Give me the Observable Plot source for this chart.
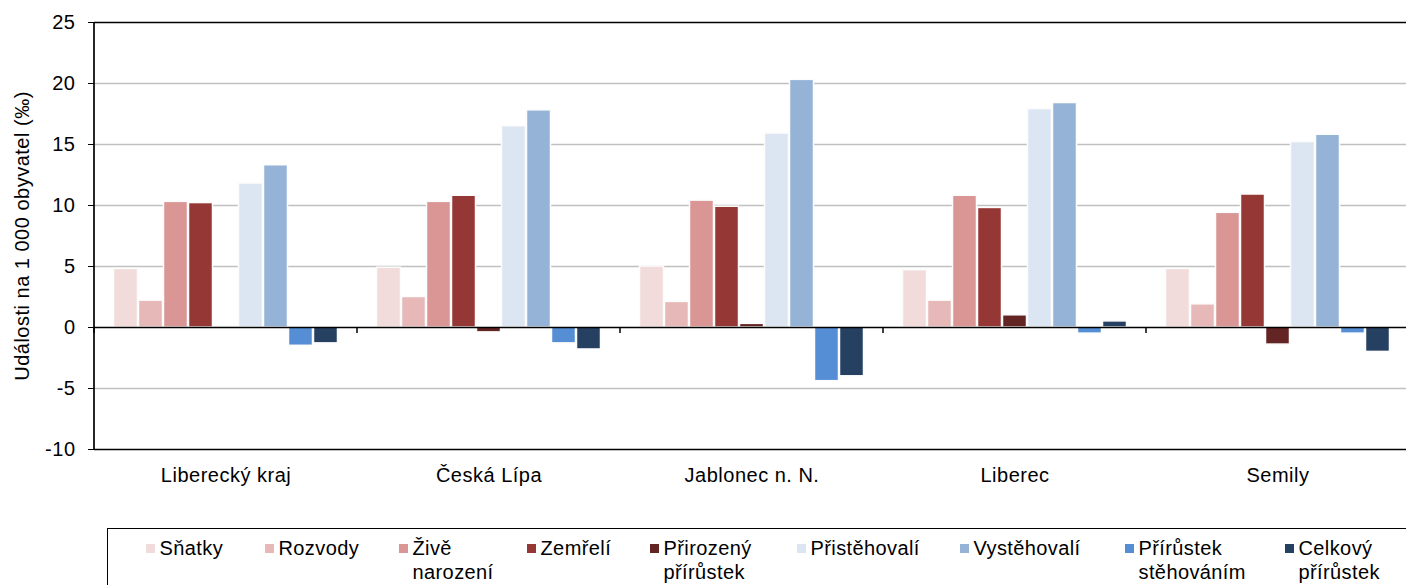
<!DOCTYPE html>
<html><head><meta charset="utf-8">
<script src="https://cdn.jsdelivr.net/npm/d3@7"></script>
<script src="https://cdn.jsdelivr.net/npm/@observablehq/plot@0.6"></script>
<style>
html,body{margin:0;padding:0;background:#fff;overflow:hidden;}
#wrap{position:relative;width:1406px;height:585px;overflow:hidden;font-family:"Liberation Sans",Arial,sans-serif;}
#legend{position:absolute;left:107px;top:528px;width:1330px;height:90px;border:1.5px solid #000;box-sizing:border-box;}
.item{position:absolute;top:6.5px;font-size:20px;line-height:24px;color:#000;letter-spacing:0.4px;}
.sw{position:absolute;left:0;top:8px;width:9px;height:9px;}
.lbl{position:absolute;left:14px;top:0;white-space:pre;}
</style></head><body><div id="wrap"><div id="chart"></div><div id="legend"></div></div>
<script>
// ---- data ----
const regions = ["Liberecký kraj", "Česká Lípa", "Jablonec n. N.", "Liberec", "Semily"];
const series = ["Sňatky", "Rozvody", "Živě narození", "Zemřelí", "Přirozený přírůstek", "Přistěhovalí", "Vystěhovalí", "Přírůstek stěhováním", "Celkový přírůstek"];
const snatky        = [4.8, 4.9, 5.0, 4.7, 4.8];
const rozvody       = [2.2, 2.5, 2.1, 2.2, 1.9];
const ziveNarozeni  = [10.3, 10.3, 10.4, 10.8, 9.4];
const zemreli       = [10.2, 10.8, 9.9, 9.8, 10.9];
const prirozeny     = [0.1, -0.4, 0.3, 1.0, -1.4];
const pristehovali  = [11.8, 16.5, 15.9, 17.9, 15.2];
const vystehovali   = [13.3, 17.8, 20.3, 18.4, 15.8];
const prirustekSteh = [-1.5, -1.3, -4.4, -0.5, -0.5];
const celkovy       = [-1.3, -1.8, -4.0, 0.5, -2.0];
const yTicks = [-10, -5, 0, 5, 10, 15, 20, 25];
const gridTicks = [-5, 5, 10, 15, 20];
const legendLabels = ["Sňatky", "Rozvody", "Živě\nnarození", "Zemřelí", "Přirozený\npřírůstek", "Přistěhovalí", "Vystěhovalí", "Přírůstek\nstěhováním", "Celkový\npřírůstek"];
const yTitle = "Události na 1 000 obyvatel (‰)";

// ---- styles / layout ----
const colors = ["#F2DCDB", "#E6B9B8", "#D99694", "#953735", "#632523", "#DCE6F2", "#95B3D7", "#558ED5", "#254061"];
const legendX = [146, 265, 399, 527, 650, 797, 960, 1125, 1285];

const valueSets = [snatky, rozvody, ziveNarozeni, zemreli, prirozeny, pristehovali, vystehovali, prirustekSteh, celkovy];
const table = [];
regions.forEach((r, i) => series.forEach((s, j) => table.push({region: r, series: s, value: valueSets[j][i]})));

const font = '"Liberation Sans", Arial, sans-serif';
const chart = Plot.plot({
  width: 1406, height: 520,
  marginLeft: 92, marginRight: -5, marginTop: 22, marginBottom: 71,
  style: {fontFamily: font, fontSize: "20px", background: "white", color: "black", letterSpacing: "0.5px"},
  fx: {domain: regions, padding: 0},
  x: {domain: series, paddingInner: 0, paddingOuter: 0.68, axis: null},
  y: {domain: [-10, 25]},
  color: {domain: series, range: colors},
  marks: [
    Plot.gridY({ticks: gridTicks, stroke: "#c0c0c0", strokeOpacity: 1, strokeWidth: 1.3}),
    Plot.barY(table, {fx: "region", x: "series", y: "value", fill: "series", stroke: "#fcfcfc", strokeWidth: 1.5, insetLeft: 0.5, insetRight: 0.5}),
    Plot.ruleY([0, 25, -10], {stroke: "black", strokeWidth: 1.7}),
    Plot.axisY({ticks: yTicks, tickSize: 6, tickPadding: 13, tickFormat: d => String(d), label: yTitle, labelAnchor: "center", labelArrow: "none", labelOffset: 80}),
    Plot.axisFx({anchor: "bottom", tickSize: 0, tickPadding: 18, label: null})
  ]
});
document.getElementById("chart").appendChild(chart);

// boundary ticks & left axis line from the library's scales
const fx = chart.scale("fx"), ys = chart.scale("y");
const bw = fx.bandwidth != null ? fx.bandwidth : (fx.range[1] - fx.range[0]) / regions.length;
const bounds = regions.map(r => fx.apply(r)).concat([fx.apply(regions[regions.length - 1]) + bw]);
const y0 = ys.apply(0);
const g = d3.select(chart).append("g");
g.selectAll("line.b").data(bounds).join("line").attr("class", "b")
  .attr("x1", d => d).attr("x2", d => d).attr("y1", y0).attr("y2", y0 + 6)
  .attr("stroke", "black").attr("stroke-width", 1.5);
g.append("line").attr("x1", bounds[0]).attr("x2", bounds[0])
  .attr("y1", ys.apply(25)).attr("y2", ys.apply(-10))
  .attr("stroke", "black").attr("stroke-width", 1.7);

// legend
const leg = document.getElementById("legend");
legendLabels.forEach((t, i) => {
  const it = document.createElement("div");
  it.className = "item";
  it.style.left = (legendX[i] - 108.5) + "px";
  const sw = document.createElement("div");
  sw.className = "sw"; sw.style.background = colors[i];
  const lb = document.createElement("div");
  lb.className = "lbl"; lb.textContent = t;
  it.appendChild(sw); it.appendChild(lb);
  leg.appendChild(it);
});
</script></body></html>
